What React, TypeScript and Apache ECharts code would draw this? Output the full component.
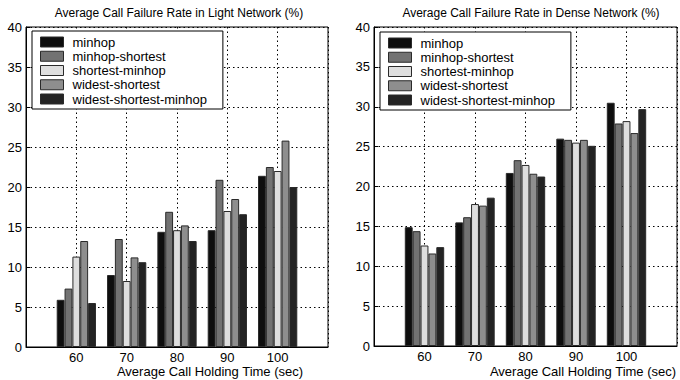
import React, { useEffect, useRef } from "react";
import * as echarts from "echarts";

const axisSlots = ["50", "60", "70", "80", "90", "100", "110"];
const seriesNames = [
  "minhop",
  "minhop-shortest",
  "shortest-minhop",
  "widest-shortest",
  "widest-shortest-minhop",
];
const seriesColors = ["#0e0e0e", "#727272", "#dedede", "#8e8e8e", "#232323"];

// Light network, holding times 60..100
const lightMinhop = [5.9, 9.0, 14.4, 14.6, 21.4];
const lightMinhopShortest = [7.3, 13.5, 16.9, 20.9, 22.5];
const lightShortestMinhop = [11.3, 8.25, 14.6, 17.0, 22.0];
const lightWidestShortest = [13.25, 11.2, 15.2, 18.5, 25.8];
const lightWidestShortestMinhop = [5.5, 10.6, 13.25, 16.6, 20.0];

// Dense network, holding times 60..100
const denseMinhop = [14.9, 15.5, 21.7, 26.0, 30.5];
const denseMinhopShortest = [14.4, 16.15, 23.3, 25.85, 27.9];
const denseShortestMinhop = [12.6, 17.8, 22.7, 25.5, 28.2];
const denseWidestShortest = [11.6, 17.6, 21.6, 25.85, 26.7];
const denseWidestShortestMinhop = [12.4, 18.6, 21.25, 25.1, 29.7];

const lightTitle = "Average Call Failure Rate in Light Network (%)";
const denseTitle = "Average Call Failure Rate in Dense Network (%)";
const xName = "Average Call Holding Time (sec)";

const FONT = "Liberation Sans, Arial, Helvetica, sans-serif";

export default function App() {
  const ref = useRef<HTMLDivElement>(null);
  useEffect(() => {
    if (!ref.current) return;
    const chart = echarts.init(ref.current, null, { renderer: "svg" });
    const lightSets = [
      lightMinhop,
      lightMinhopShortest,
      lightShortestMinhop,
      lightWidestShortest,
      lightWidestShortestMinhop,
    ];
    const denseSets = [
      denseMinhop,
      denseMinhopShortest,
      denseShortestMinhop,
      denseWidestShortest,
      denseWidestShortestMinhop,
    ];
    const pad = (arr: number[]) => ["-", ...arr, "-"];
    const mkSeries = (sets: number[][], idx: number) =>
      sets.map((d, i) => ({
        type: "bar",
        name: seriesNames[i],
        xAxisIndex: idx,
        yAxisIndex: idx,
        data: pad(d),
        barGap: "0%",
        barCategoryGap: "22%",
        itemStyle: { color: seriesColors[i], borderColor: "#2a2a2a", borderWidth: 1 },
      }));
    const dotted = { color: "#000", width: 1, type: [1.5, 3] as any };
    const mkX = (idx: number) => ({
      type: "category",
      gridIndex: idx,
      data: axisSlots,
      boundaryGap: false,
      axisLine: { lineStyle: { color: "#000" } },
      axisTick: { show: false },
      axisLabel: {
        interval: 0,
        color: "#000",
        fontFamily: FONT,
        fontSize: 13,
        lineHeight: 13,
        margin: 4,
        formatter: (v: string) => (v === "50" || v === "110" ? "" : v),
      },
      splitLine: { show: true, lineStyle: dotted },
    });
    const mkY = (idx: number) => ({
      type: "value",
      gridIndex: idx,
      min: 0,
      max: 40,
      interval: 5,
      axisLine: { show: true, lineStyle: { color: "#000" } },
      axisTick: { show: true, inside: true, length: 4, lineStyle: { color: "#000" } },
      axisLabel: { color: "#000", fontFamily: FONT, fontSize: 13, margin: 4 },
      splitLine: { show: true, lineStyle: dotted },
    });
    const mkLegend = (left: number, top: number) => ({
      left,
      top,
      orient: "vertical",
      data: seriesNames,
      icon: "rect",
      itemWidth: 23,
      itemHeight: 10,
      itemGap: 0.25,
      itemStyle: { borderColor: "#2a2a2a", borderWidth: 1 },
      textStyle: {
        color: "#000",
        fontFamily: FONT,
        fontSize: 13,
        lineHeight: 14,
        padding: [0, 0, 0, 4],
      },
      backgroundColor: "#fff",
      borderColor: "#000",
      borderWidth: 1,
      borderRadius: 0,
      padding: [4, 16, 3, 8],
      selectedMode: false,
      z: 10,
    });
    const txt = (x: number, y: number, text: string, size: number) => ({
      type: "text",
      x,
      y,
      z: 20,
      style: {
        text,
        fill: "#000",
        font: `${size}px ${FONT}`,
        textAlign: "center",
        align: "center",
        textVerticalAlign: "middle",
        verticalAlign: "middle",
      },
    });
    chart.setOption({
      animation: false,
      backgroundColor: "#fff",
      grid: [
        { left: 26, top: 27, width: 302, height: 320, show: true, borderColor: "#000", borderWidth: 1, backgroundColor: "transparent" },
        { left: 374, top: 27, width: 309, height: 319, show: true, borderColor: "#000", borderWidth: 1, backgroundColor: "transparent" },
      ],
      xAxis: [mkX(0), mkX(1)],
      yAxis: [mkY(0), mkY(1)],
      legend: [mkLegend(32, 31), mkLegend(380, 32)],
      series: [...mkSeries(lightSets, 0), ...mkSeries(denseSets, 1)],
      graphic: [
        txt(179, 13, lightTitle, 12),
        txt(531, 13, denseTitle, 12),
        txt(210, 371, xName, 13),
        txt(583, 371, xName, 13),
      ],
    });
    return () => chart.dispose();
  }, []);
  return (
    <div
      ref={ref}
      style={{ position: "fixed", left: 0, top: 0, width: 680, height: 380, background: "#fff" }}
    />
  );
}
